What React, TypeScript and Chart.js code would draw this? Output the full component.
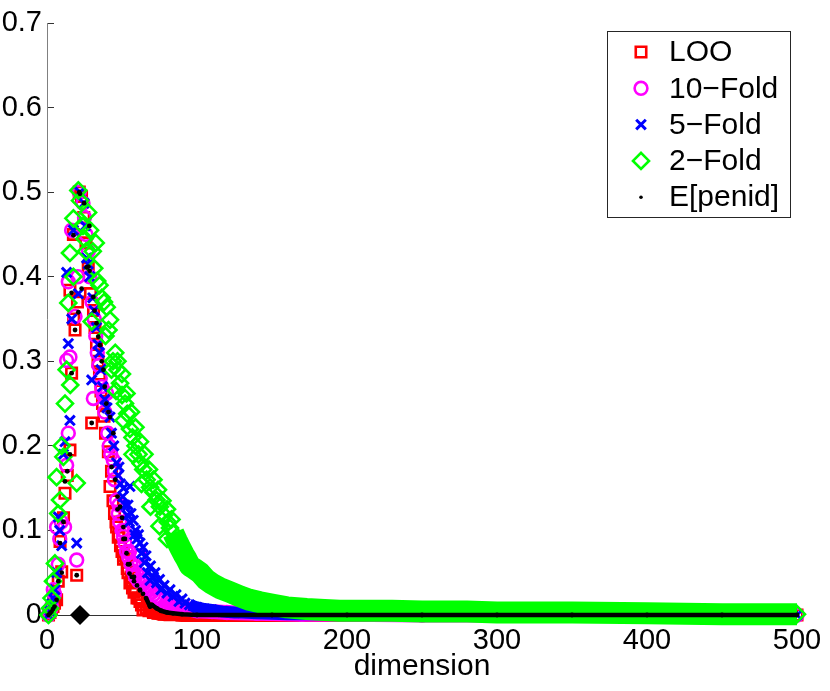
import { useEffect, useRef } from 'react';
import { Chart, registerables } from 'chart.js';
import { drawPoint } from 'chart.js/helpers';

Chart.register(...registerables);

// tick values
const xTicks = [0, 100, 200, 300, 400, 500];
const yTicks = [0, 0.1, 0.2, 0.3, 0.4, 0.5, 0.6, 0.7];

// LOO
const looX = [1, 2, 3, 4, 5, 6.4, 7.5, 8.7, 9.8, 11, 12, 13.5, 15.3, 16.4, 15.3, 18.7, 17.8, 20.3, 17.6, 19.8, 21.5, 23, 24.5, 26, 27.5, 29, 29.8, 31, 32, 33, 34, 35, 36, 37, 38, 39, 40.9, 42, 43, 44, 45, 46.4, 47.5, 49, 50, 51, 53, 53.5, 55.3, 56, 57, 58, 60, 62, 46, 48, 51, 54, 57, 59, 61, 63, 64, 66, 68, 71, 74, 78, 84, 90, 100, 125, 150, 200, 250, 300, 350, 400, 450, 500];
const looY = [0, 0.003, 0.007, 0.01, 0.014, 0.018, 0.04, 0.087, 0.051, 0.115, 0.144, 0.165, 0.195, 0.286, 0.384, 0.337, 0.35, 0.37, 0.45, 0.047, 0.5, 0.495, 0.47, 0.44, 0.41, 0.38, 0.227, 0.36, 0.34, 0.32, 0.3, 0.285, 0.265, 0.25, 0.235, 0.215, 0.193, 0.152, 0.17, 0.135, 0.12, 0.104, 0.092, 0.082, 0.075, 0.066, 0.069, 0.055, 0.038, 0.045, 0.032, 0.027, 0.02, 0.016, 0.11, 0.095, 0.07, 0.05, 0.04, 0.03, 0.02, 0.012, 0.006, 0.008, 0.005, 0.003, 0.002, 0.001, 0.001, 0, 0, 0, 0, 0, 0, 0, 0, 0, 0, 0];

// 10-fold
const tenX = [1, 2, 3.1, 4.2, 5, 6.4, 7.5, 8.5, 9.5, 11.7, 13.1, 14.2, 13.1, 15.3, 14.2, 16.4, 18.7, 19.8, 20.5, 21.5, 24, 25, 26, 27.5, 28.5, 30, 30.9, 31.5, 32.5, 33.5, 34.5, 35.5, 36.5, 37.5, 38.5, 39.8, 40.5, 41.5, 42.5, 44.2, 45, 46.4, 47.5, 48.5, 50, 50.9, 52, 53, 54.5, 56, 57.5, 59, 61, 62, 64, 66, 68.7, 71, 45, 48, 51, 55, 58, 60, 63, 65, 67, 70, 73, 75, 80, 85, 90, 95, 100, 110, 120, 140, 170, 200, 250, 300, 350, 400, 450, 500];
const tenY = [0, 0.004, 0.01, 0.03, 0.025, 0.104, 0.06, 0.09, 0.11, 0.104, 0.177, 0.215, 0.301, 0.305, 0.394, 0.455, 0.353, 0.065, 0.4, 0.5, 0.487, 0.47, 0.45, 0.43, 0.4, 0.37, 0.256, 0.35, 0.33, 0.31, 0.295, 0.28, 0.27, 0.26, 0.24, 0.262, 0.215, 0.2, 0.19, 0.183, 0.16, 0.136, 0.12, 0.11, 0.1, 0.093, 0.085, 0.075, 0.068, 0.06, 0.052, 0.045, 0.04, 0.07, 0.04, 0.033, 0.03, 0.024, 0.17, 0.13, 0.1, 0.075, 0.06, 0.05, 0.045, 0.038, 0.03, 0.027, 0.022, 0.018, 0.013, 0.01, 0.008, 0.007, 0.005, 0.004, 0.003, 0.002, 0.001, 0.001, 0, 0, 0, 0, 0, 0];

// 5-fold
const fiveX = [1, 2, 3.1, 4, 5.3, 6.5, 7.6, 8.5, 9.8, 11, 12, 13.1, 14.2, 15.3, 16.5, 17.6, 19.8, 20.9, 22, 24.7, 25.5, 26.4, 27.5, 28.5, 29.8, 30.5, 31.5, 33, 34, 35, 36, 37, 38.5, 40, 42, 43, 44.5, 46.4, 47.5, 49, 50.5, 52, 53.5, 55, 55.3, 57.5, 58.5, 60, 62, 63, 65, 67, 68.7, 71, 73, 76, 80, 84, 88, 92, 48, 51, 54, 56, 59, 61, 64, 66, 69, 72, 75, 78, 82, 86, 90, 95, 100, 105, 110, 117, 125, 130, 140, 160, 200, 250, 300, 350, 400, 450, 500];
const fiveY = [0, 0.005, 0.013, 0.02, 0.03, 0.05, 0.116, 0.1, 0.082, 0.19, 0.205, 0.405, 0.321, 0.23, 0.35, 0.455, 0.085, 0.38, 0.5, 0.487, 0.46, 0.422, 0.415, 0.4, 0.278, 0.375, 0.36, 0.34, 0.32, 0.31, 0.29, 0.27, 0.255, 0.245, 0.234, 0.215, 0.2, 0.18, 0.165, 0.155, 0.14, 0.13, 0.118, 0.11, 0.152, 0.112, 0.095, 0.09, 0.085, 0.073, 0.062, 0.05, 0.041, 0.045, 0.038, 0.03, 0.026, 0.022, 0.016, 0.014, 0.175, 0.15, 0.13, 0.12, 0.1, 0.095, 0.08, 0.07, 0.058, 0.05, 0.042, 0.035, 0.03, 0.024, 0.019, 0.012, 0.009, 0.007, 0.006, 0.004, 0.003, 0.003, 0.002, 0.001, 0.001, 0, 0, 0, 0, 0, 0];

// 2-fold
const twoX = [1, 2, 3, 4, 5.3, 6.4, 7.5, 8.7, 9.8, 10.9, 12, 13.1, 14.2, 15.3, 15.5, 17.6, 17.6, 19.8, 20.9, 22, 24, 25, 26, 27.4, 28.7, 29.8, 30.5, 31.5, 32.5, 33.5, 35, 36.5, 38, 39.8, 41, 42, 44, 45.5, 47, 48.7, 50, 52, 53.5, 55.3, 57, 59, 61, 62.5, 64.2, 66.4, 68.7, 71, 73, 75.3, 78, 80.5, 82, 47, 50, 53, 56, 59, 62, 65, 68, 71, 74, 77, 80, 83, 39, 43, 46, 51, 57, 63, 69, 75, 80, 84.2, 86.5, 88.7, 91, 93, 95.3, 98, 102, 106, 110, 115, 122, 128.7, 135, 142, 150.7, 160, 173, 185, 195, 210, 230, 250, 280, 300, 350, 400, 450, 500];
const twoY = [0, 0.008, 0.02, 0.04, 0.061, 0.163, 0.12, 0.136, 0.2, 0.187, 0.25, 0.29, 0.369, 0.428, 0.272, 0.469, 0.4, 0.156, 0.502, 0.49, 0.46, 0.445, 0.43, 0.476, 0.455, 0.347, 0.43, 0.41, 0.44, 0.395, 0.39, 0.375, 0.37, 0.364, 0.337, 0.349, 0.3, 0.31, 0.29, 0.274, 0.26, 0.25, 0.238, 0.22, 0.21, 0.2, 0.19, 0.179, 0.172, 0.16, 0.151, 0.145, 0.136, 0.128, 0.118, 0.11, 0.103, 0.3, 0.285, 0.262, 0.24, 0.222, 0.205, 0.19, 0.172, 0.16, 0.148, 0.135, 0.125, 0.113, 0.33, 0.29, 0.265, 0.23, 0.19, 0.155, 0.128, 0.105, 0.09, 0.097, 0.088, 0.08, 0.072, 0.066, 0.058, 0.055, 0.05, 0.042, 0.037, 0.032, 0.027, 0.022, 0.018, 0.015, 0.012, 0.009, 0.007, 0.006, 0.005, 0.005, 0.005, 0.004, 0.004, 0.003, 0.003, 0.002, 0.001, 0.001, 0];

// E[penid]
const penX = [1, 2, 3, 4, 5, 6.4, 7.5, 8.7, 9.8, 11, 12, 13.5, 15.3, 16.4, 16.4, 17.6, 18.7, 19.8, 20.9, 21.5, 22, 23.1, 24.7, 26.4, 27.6, 28.2, 28.4, 29.8, 30.9, 31.7, 33, 34.2, 35.3, 36.5, 37.6, 38.5, 39.5, 41, 42, 43, 44.2, 45.5, 47, 48.7, 50, 50.9, 52, 53, 54, 55, 56.5, 58, 60, 62, 64, 47, 51, 55, 58, 62, 66, 68.7, 70, 73, 76, 80, 84, 90, 100, 150, 200, 250, 300, 350, 400, 450, 500];
const penY = [0, 0.002, 0.004, 0.007, 0.01, 0.018, 0.04, 0.085, 0.05, 0.11, 0.158, 0.17, 0.19, 0.381, 0.286, 0.449, 0.337, 0.047, 0.358, 0.5, 0.498, 0.386, 0.487, 0.411, 0.412, 0.46, 0.407, 0.227, 0.376, 0.36, 0.345, 0.329, 0.319, 0.3, 0.29, 0.27, 0.25, 0.24, 0.234, 0.175, 0.215, 0.16, 0.14, 0.128, 0.115, 0.104, 0.09, 0.073, 0.06, 0.049, 0.045, 0.04, 0.035, 0.029, 0.025, 0.125, 0.09, 0.06, 0.045, 0.03, 0.02, 0.01, 0.012, 0.008, 0.005, 0.003, 0.002, 0.001, 0, 0, 0, 0, 0, 0, 0, 0, 0];

// chosen dimension marker
const optX = [22];
const optY = [0];

const FONT = '"Liberation Sans", Arial, Helvetica, sans-serif';

// bandFrom: past this dimension the markers are packed so tight they read as a solid band
const series = [
  { label: 'LOO', xs: looX, ys: looY, color: '#ff0000', pointStyle: 'rect', radius: 7.4, lw: 2.6, filled: false, bandFrom: 64, band: 14 },
  { label: '10\u2212Fold', xs: tenX, ys: tenY, color: '#ff00ff', pointStyle: 'circle', radius: 6.4, lw: 2.6, filled: false, bandFrom: 75, band: 15 },
  { label: '5\u2212Fold', xs: fiveX, ys: fiveY, color: '#0000ff', pointStyle: 'crossRot', radius: 6.8, lw: 3, filled: false, bandFrom: 95, band: 12 },
  { label: '2\u2212Fold', xs: twoX, ys: twoY, color: '#00ff00', pointStyle: 'rectRot', radius: 8, lw: 2.6, filled: false, bandFrom: 84, band: 22 },
  { label: 'E[penid]', xs: penX, ys: penY, color: '#000000', pointStyle: 'circle', radius: 2.4, lw: 0, filled: true, bandFrom: 66, band: 4.5 },
];

const legendBox = {
  id: 'legendBox',
  afterDraw(chart: Chart) {
    const { ctx, chartArea } = chart;
    const w = 183;
    const h = 186;
    const left = chartArea.right - 7 - w;
    const top = chartArea.top + 8;
    ctx.save();
    ctx.fillStyle = '#ffffff';
    ctx.fillRect(left, top, w, h);
    ctx.strokeStyle = '#262626';
    ctx.lineWidth = 1;
    ctx.strokeRect(left + 0.5, top + 0.5, w, h);
    ctx.font = `30px ${FONT}`;
    ctx.textBaseline = 'middle';
    ctx.textAlign = 'left';
    series.forEach((s, i) => {
      const y = top + 21 + i * 36.3;
      ctx.strokeStyle = s.color;
      ctx.fillStyle = s.filled ? s.color : 'rgba(0,0,0,0)';
      ctx.lineWidth = s.lw;
      drawPoint(ctx, { pointStyle: s.pointStyle, rotation: 0, radius: s.filled ? 1.8 : s.radius, borderWidth: s.lw }, left + 34, y);
      ctx.fillStyle = '#000000';
      ctx.fillText(s.label, left + 62, y + 1);
    });
    ctx.restore();
  },
};

const App = () => {
  const chartRef = useRef<HTMLCanvasElement>(null);
  const chartInstance = useRef<Chart | null>(null);

  useEffect(() => {
    document.body.style.margin = '0';
    if (!chartRef.current) return;
    if (chartInstance.current) chartInstance.current.destroy();

    const datasets: any[] = series.map((s, idx) => {
      const inBand = (c: any) => {
        const x0 = s.xs[c.p0DataIndex];
        const x1 = s.xs[c.p1DataIndex];
        return x0 >= s.bandFrom && x1 > x0;
      };
      return {
        label: s.label,
        data: s.xs.map((x, i) => ({ x, y: s.ys[i] })),
        order: series.length - idx,
        showLine: true,
        borderColor: s.color,
        borderWidth: s.band,
        borderJoinStyle: 'round',
        segment: {
          borderColor: (c: any) => (inBand(c) ? s.color : 'rgba(0,0,0,0)'),
          borderWidth: () => s.band,
        },
        pointStyle: s.pointStyle,
        pointRadius: s.radius,
        pointHoverRadius: s.radius,
        pointBorderWidth: s.lw,
        pointBorderColor: s.color,
        pointBackgroundColor: s.filled ? s.color : 'rgba(0,0,0,0)',
        clip: false,
      };
    });

    datasets.push({
      label: 'chosen',
      data: optX.map((x, i) => ({ x, y: optY[i] })),
      order: 0,
      showLine: false,
      pointStyle: 'rectRot',
      pointRadius: 10,
      pointHoverRadius: 10,
      pointBorderWidth: 0,
      pointBackgroundColor: '#000000',
      pointBorderColor: '#000000',
      clip: false,
    });

    const tickFont = { family: FONT, size: 29 };

    chartInstance.current = new Chart(chartRef.current, {
      type: 'scatter',
      data: { datasets },
      options: {
        responsive: false,
        animation: false,
        events: [],
        layout: { padding: { top: 23, right: 33, left: 0, bottom: 0 } },
        plugins: {
          legend: { display: false },
          tooltip: { enabled: false },
        },
        scales: {
          x: {
            type: 'linear',
            min: 0,
            max: 500,
            afterBuildTicks: (scale: any) => {
              scale.ticks = xTicks.map((v) => ({ value: v }));
            },
            afterFit: (scale: any) => {
              scale.height = 76;
              scale.paddingLeft = 0;
              scale.paddingRight = 0;
            },
            grid: { drawOnChartArea: false, drawTicks: true, tickLength: -7, color: '#333333' },
            border: { color: '#333333', width: 1 },
            ticks: {
              padding: 16,
              color: '#000000',
              font: tickFont,
              maxRotation: 0,
              autoSkip: false,
              callback: (v: any) => String(v),
            },
            title: {
              display: true,
              text: 'dimension',
              color: '#000000',
              font: { family: FONT, size: 30 },
              padding: { top: 0, bottom: 6 },
            },
          },
          y: {
            type: 'linear',
            min: 0,
            max: 0.7,
            afterBuildTicks: (scale: any) => {
              scale.ticks = yTicks.map((v) => ({ value: v }));
            },
            afterFit: (scale: any) => {
              scale.width = 47;
              scale.paddingTop = 0;
              scale.paddingBottom = 0;
            },
            grid: { drawOnChartArea: false, drawTicks: true, tickLength: -7, color: '#333333' },
            border: { color: '#808080', width: 1 },
            ticks: {
              padding: 12,
              color: '#000000',
              font: tickFont,
              autoSkip: false,
              callback: (v: any) => String(v),
            },
          },
        },
      },
      plugins: [legendBox],
    });

    return () => {
      if (chartInstance.current) {
        chartInstance.current.destroy();
        chartInstance.current = null;
      }
    };
  }, []);

  return (
    <div style={{ width: 830, height: 691, background: '#ffffff' }}>
      <canvas ref={chartRef} width={830} height={691} />
    </div>
  );
};

export default App;
